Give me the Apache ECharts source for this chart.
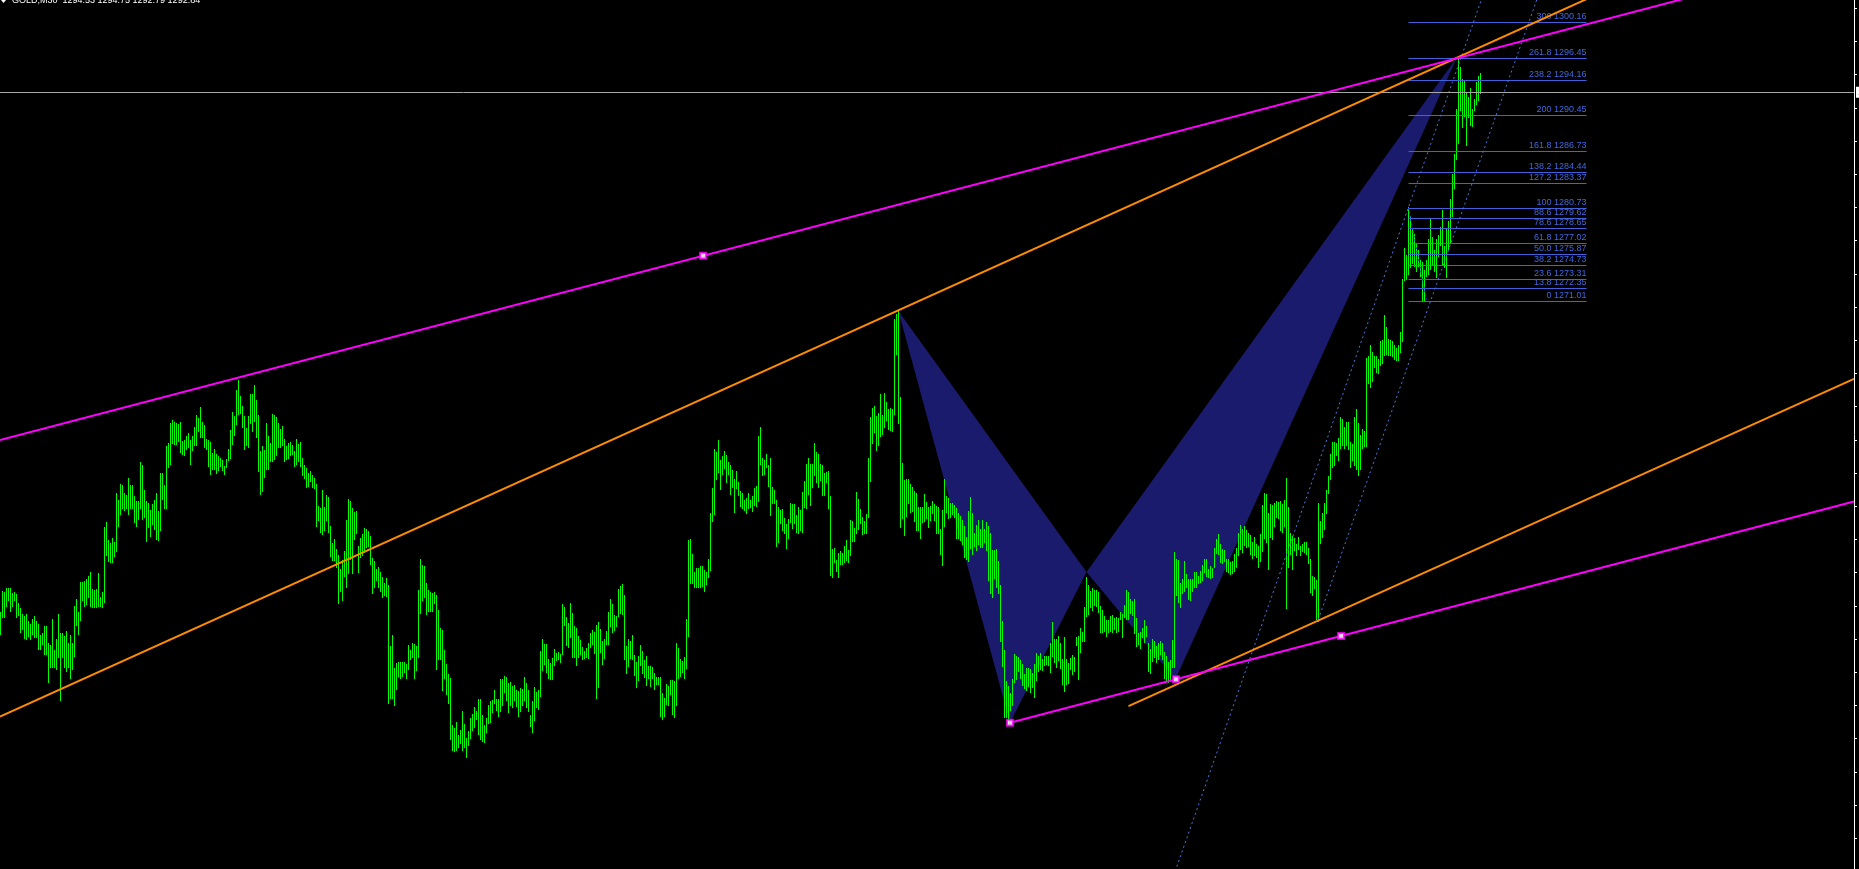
<!DOCTYPE html>
<html><head><meta charset="utf-8">
<script src="https://cdn.jsdelivr.net/npm/echarts@6.0.0/dist/echarts.min.js"></script>
<style>html,body{margin:0;padding:0;background:#000;overflow:hidden}#c{width:1859px;height:869px}</style>
</head><body><div id="c"></div>
<script>
// ---------- data ----------
const symbolName = 'GOLD,M30';
const lastQuote = [1294.53, 1294.75, 1292.79, 1292.84]; // O H L C of last bar
const highs = [
1238.4,1240.6,1240.4,1240.9,1240.9,1240.9,1240.3,1240.4,1240.2,1239.3,
1238.8,1238.2,1237.9,1238.1,1237.4,1237.1,1237.6,1237.9,1237.4,1237.1,
1236.0,1236.2,1236.9,1236.9,1235.1,1234.9,1237.6,1234.4,1235.5,1238.1,
1236.2,1236.2,1235.8,1236.4,1235.1,1236.0,1235.1,1239.0,1239.7,1238.4,
1241.5,1241.5,1241.6,1241.8,1242.1,1242.5,1240.8,1240.7,1240.8,1242.4,
1239.9,1240.4,1247.3,1247.8,1245.9,1245.6,1246.1,1245.7,1250.8,1250.1,
1251.8,1251.7,1250.8,1250.6,1252.4,1251.7,1251.7,1250.5,1250.0,1250.0,
1254.1,1253.7,1251.1,1250.0,1249.8,1249.0,1249.7,1250.1,1250.8,1248.9,
1252.9,1252.9,1251.7,1255.7,1256.1,1258.1,1258.5,1258.3,1258.1,1258.0,
1258.2,1256.3,1256.4,1256.8,1257.1,1256.4,1256.8,1257.7,1259.0,1258.7,
1259.8,1258.2,1257.9,1256.5,1256.4,1256.2,1255.0,1255.4,1254.9,1254.7,
1254.5,1254.3,1253.6,1254.4,1255.4,1257.4,1259.3,1258.9,1261.6,1262.6,
1261.0,1259.9,1258.9,1257.6,1258.9,1261.2,1261.2,1262.1,1260.6,1259.0,
1255.2,1255.7,1255.3,1258.1,1256.8,1256.1,1259.1,1259.0,1258.8,1258.1,
1257.5,1257.8,1256.5,1255.7,1256.1,1256.2,1255.8,1255.2,1256.5,1256.0,
1256.2,1254.5,1253.8,1253.4,1252.9,1253.1,1252.7,1252.4,1251.8,1249.5,
1249.2,1251.1,1249.4,1250.6,1250.4,1247.4,1245.6,1246.0,1245.0,1244.3,
1242.9,1243.8,1244.7,1248.0,1250.2,1250.0,1249.2,1248.8,1248.9,1245.3,
1246.1,1246.5,1247.2,1247.1,1246.8,1246.3,1244.0,1243.7,1242.9,1243.1,
1242.5,1242.0,1241.4,1241.9,1241.2,1234.8,1235.9,1232.5,1233.0,1233.1,
1233.1,1233.1,1233.1,1232.9,1234.9,1234.4,1235.1,1235.0,1234.8,1240.7,
1243.9,1243.3,1243.2,1241.4,1240.7,1240.4,1240.3,1240.4,1240.1,1238.6,
1236.7,1236.5,1234.4,1232.9,1231.9,1231.4,1226.5,1226.2,1226.8,1225.5,
1226.0,1228.0,1226.6,1225.2,1225.9,1227.3,1227.7,1228.4,1228.0,1229.3,
1229.3,1227.6,1226.5,1227.3,1228.6,1229.0,1229.1,1230.2,1229.2,1229.2,
1231.3,1231.3,1231.7,1231.6,1230.9,1231.0,1230.6,1230.7,1230.2,1230.1,
1230.4,1230.3,1231.5,1230.9,1230.2,1227.6,1229.0,1230.5,1230.0,1230.2,
1234.3,1235.5,1235.0,1235.0,1233.4,1233.0,1233.5,1234.5,1234.1,1234.2,
1234.0,1239.2,1238.9,1237.8,1237.2,1239.3,1238.3,1236.9,1236.7,1235.8,
1235.4,1234.7,1234.3,1234.6,1235.1,1236.2,1236.5,1236.3,1237.0,1237.3,
1236.6,1235.3,1235.5,1236.4,1238.4,1239.7,1239.2,1238.0,1237.9,1240.8,
1241.1,1241.3,1240.1,1234.8,1235.5,1235.3,1235.9,1233.9,1233.1,1233.7,
1234.9,1234.3,1233.3,1233.7,1232.7,1232.7,1232.6,1232.0,1231.5,1231.6,
1231.5,1229.9,1229.4,1230.8,1230.6,1231.2,1231.2,1231.1,1235.1,1234.6,
1233.4,1233.2,1233.6,1237.6,1245.9,1246.0,1244.4,1242.5,1243.0,1243.0,
1243.2,1243.2,1242.8,1242.5,1243.9,1248.7,1251.3,1255.4,1255.1,1256.4,
1254.3,1254.7,1255.2,1254.8,1254.1,1253.8,1253.2,1252.3,1253.1,1252.0,
1251.0,1250.8,1250.1,1250.3,1250.8,1250.1,1250.5,1251.3,1251.5,1256.8,
1257.7,1254.5,1254.3,1254.9,1253.7,1254.5,1251.4,1251.1,1250.1,1249.3,
1249.0,1249.1,1248.2,1247.6,1248.1,1249.8,1249.7,1249.7,1248.5,1249.4,
1249.0,1250.9,1252.1,1253.9,1254.5,1253.9,1253.9,1256.1,1255.1,1254.9,
1253.9,1253.7,1252.9,1253.0,1253.1,1250.5,1245.0,1245.1,1243.8,1244.5,
1244.7,1244.5,1245.3,1245.9,1244.9,1248.0,1247.9,1247.2,1250.9,1250.2,
1249.1,1248.3,1247.9,1248.6,1254.5,1258.8,1259.7,1259.9,1258.9,1259.2,
1261.2,1259.0,1261.3,1260.3,1259.6,1259.7,1259.6,1269.0,1269.6,1269.9,
1260.9,1254.0,1252.2,1252.3,1252.3,1251.8,1251.4,1251.0,1250.8,1249.3,
1249.3,1249.3,1250.7,1249.9,1249.4,1249.5,1250.0,1249.7,1249.5,1249.4,
1247.0,1249.0,1252.3,1250.5,1250.3,1249.8,1249.8,1249.6,1249.2,1248.7,
1248.4,1248.0,1247.4,1246.2,1248.9,1250.4,1248.7,1246.6,1247.5,1248.0,
1247.0,1248.0,1247.0,1247.8,1247.4,1246.6,1244.9,1244.9,1245.0,1243.7,
1241.2,1237.4,1234.4,1231.1,1230.6,1229.9,1231.3,1234.0,1233.8,1233.6,
1233.3,1232.9,1231.9,1232.5,1232.5,1232.4,1232.0,1232.9,1234.1,1233.8,
1234.1,1233.4,1233.8,1233.7,1233.7,1235.1,1237.3,1235.5,1235.5,1235.8,
1235.1,1233.4,1235.7,1233.4,1233.0,1233.5,1233.9,1233.6,1235.7,1235.8,
1236.7,1236.3,1238.9,1242.0,1241.2,1240.6,1240.9,1240.7,1240.7,1240.5,
1239.0,1238.6,1237.9,1237.5,1237.5,1237.9,1238.0,1237.7,1237.8,1237.7,
1238.4,1238.1,1239.1,1240.7,1240.4,1239.7,1239.5,1239.7,1237.7,1236.2,
1236.3,1236.7,1237.5,1236.9,1235.1,1234.5,1235.5,1235.3,1234.8,1235.1,
1235.3,1235.1,1234.2,1233.8,1233.1,1233.3,1235.4,1244.6,1243.9,1243.8,
1241.4,1241.8,1243.7,1242.3,1241.8,1241.8,1241.8,1242.5,1242.5,1242.1,
1242.6,1243.3,1243.9,1243.9,1242.9,1243.2,1243.0,1245.1,1246.0,1246.5,
1245.5,1245.0,1244.9,1243.9,1243.9,1243.6,1243.7,1244.4,1245.1,1246.6,
1247.5,1247.0,1247.4,1246.9,1246.6,1246.4,1245.7,1246.2,1245.5,1245.3,
1246.5,1249.6,1250.8,1250.7,1248.7,1249.7,1249.6,1249.8,1250.0,1249.9,
1250.0,1249.7,1250.1,1252.4,1249.4,1246.6,1246.3,1246.1,1245.5,1246.2,
1245.3,1245.5,1245.7,1245.7,1245.1,1243.9,1242.1,1242.0,1241.7,1249.8,
1247.9,1248.7,1249.8,1251.1,1252.6,1254.9,1256.2,1256.2,1256.1,1256.6,
1258.8,1258.6,1257.7,1258.2,1258.3,1256.2,1256.0,1258.8,1259.6,1258.1,
1256.9,1257.5,1257.3,1265.0,1265.2,1266.3,1265.6,1265.2,1265.2,1264.8,
1266.7,1266.8,1269.5,1268.2,1266.9,1266.8,1266.7,1266.3,1266.0,1266.3,
1267.7,1273.2,1276.5,1275.7,1280.73,1279.8,1278.6,1277.9,1276.9,1276.3,
1275.2,1275.0,1274.2,1275.2,1277.4,1279.5,1277.6,1276.3,1277.4,1277.8,
1278.7,1280.4,1276.7,1278.6,1279.3,1281.6,1284.2,1286.3,1291.0,1296.6,
1295.4,1294.2,1294.1,1292.8,1292.3,1293.2,1291.0,1292.1,1293.9,1294.5,
1294.75
];
const lows = [
1236.2,1237.9,1237.9,1239.1,1239.7,1238.6,1239.1,1239.7,1237.9,1238.2,
1236.4,1236.7,1235.7,1235.6,1236.0,1235.6,1236.2,1235.8,1235.8,1234.6,
1234.6,1235.1,1234.1,1234.1,1231.1,1232.7,1232.7,1232.7,1232.5,1233.7,
1229.2,1233.7,1232.7,1232.3,1232.7,1231.6,1232.5,1233.9,1237.1,1236.2,
1237.6,1239.7,1239.1,1239.3,1240.0,1239.1,1239.0,1239.0,1239.0,1239.1,
1239.1,1239.0,1239.5,1244.4,1243.8,1243.7,1243.7,1244.3,1244.9,1247.5,
1248.7,1249.4,1249.1,1249.4,1248.7,1249.4,1249.4,1247.9,1247.5,1248.2,
1249.4,1248.2,1248.4,1245.9,1247.4,1246.4,1247.7,1247.2,1246.1,1246.0,
1247.0,1250.3,1249.4,1249.4,1253.6,1254.0,1256.2,1256.1,1256.1,1256.4,
1255.2,1255.0,1254.9,1255.5,1255.7,1254.0,1255.4,1255.9,1255.9,1257.4,
1256.8,1256.8,1255.7,1255.5,1253.8,1252.9,1253.4,1253.4,1253.0,1253.3,
1253.7,1253.3,1252.9,1253.6,1254.4,1254.6,1256.1,1257.0,1258.1,1259.2,
1259.3,1257.8,1255.5,1256.0,1255.7,1258.2,1257.4,1258.5,1256.8,1253.2,
1250.8,1251.1,1252.6,1253.4,1253.4,1254.3,1254.3,1254.5,1254.9,1255.7,
1255.7,1255.9,1254.3,1254.5,1254.6,1254.9,1255.0,1253.8,1254.0,1254.3,
1253.8,1252.8,1252.5,1251.5,1251.7,1252.2,1251.5,1251.4,1247.5,1248.1,
1246.8,1246.6,1247.1,1248.1,1246.8,1244.3,1243.9,1243.9,1243.2,1239.4,
1240.7,1239.7,1242.2,1241.1,1242.5,1244.0,1242.5,1246.1,1246.7,1242.6,
1244.2,1244.4,1244.7,1245.3,1245.4,1243.5,1240.5,1241.1,1241.8,1241.1,
1240.7,1240.0,1240.2,1240.1,1228.9,1229.5,1229.5,1228.7,1230.4,1231.8,
1231.6,1231.8,1232.2,1231.5,1232.5,1233.5,1233.8,1231.5,1232.4,1233.8,
1238.4,1239.7,1240.0,1238.3,1238.6,1238.6,1238.6,1239.4,1232.5,1233.5,
1233.5,1230.3,1231.6,1229.9,1228.9,1225.2,1224.0,1223.9,1224.0,1224.3,
1224.7,1224.0,1224.3,1223.3,1224.5,1225.3,1226.1,1226.4,1227.3,1225.7,
1225.2,1225.0,1224.8,1225.9,1226.8,1226.9,1228.0,1228.9,1228.2,1227.6,
1228.1,1228.7,1230.1,1229.2,1228.0,1228.7,1228.5,1229.3,1228.6,1227.6,
1228.1,1228.7,1229.2,1228.5,1228.1,1226.5,1225.9,1227.2,1228.5,1228.3,
1229.7,1232.4,1233.0,1232.2,1231.6,1231.4,1231.4,1232.9,1233.4,1233.5,
1233.2,1234.1,1237.1,1235.0,1234.8,1235.8,1233.7,1233.8,1232.9,1233.8,
1234.1,1233.5,1233.6,1233.7,1233.6,1234.8,1235.1,1234.2,1229.5,1230.6,
1234.3,1233.0,1233.6,1235.1,1235.1,1237.0,1236.4,1236.6,1237.0,1238.0,
1238.4,1238.3,1233.5,1232.1,1232.8,1233.6,1233.5,1231.9,1230.6,1231.3,
1232.9,1232.1,1231.7,1230.8,1231.5,1230.7,1231.5,1230.4,1230.9,1230.9,
1227.6,1227.3,1227.6,1228.8,1228.7,1229.9,1227.8,1227.5,1228.7,1231.6,
1231.8,1232.2,1231.6,1232.6,1236.0,1241.5,1241.5,1241.1,1241.1,1241.1,
1241.1,1241.2,1240.7,1241.4,1242.1,1242.9,1248.0,1248.7,1252.4,1253.1,
1251.3,1252.9,1253.5,1252.1,1252.9,1250.8,1251.5,1248.9,1251.4,1250.7,
1249.6,1249.4,1249.1,1248.8,1249.4,1249.5,1249.0,1249.7,1249.6,1250.1,
1254.0,1252.8,1252.9,1253.6,1251.7,1248.6,1249.9,1249.9,1245.4,1245.8,
1247.8,1247.1,1246.7,1245.2,1246.2,1247.9,1247.3,1247.8,1246.8,1246.7,
1247.0,1246.8,1249.5,1249.4,1250.8,1249.7,1251.5,1252.8,1252.1,1251.5,
1252.3,1250.7,1250.7,1252.1,1249.4,1242.3,1242.1,1243.7,1242.8,1242.1,
1243.5,1243.5,1243.7,1243.9,1243.7,1244.4,1245.9,1245.9,1246.7,1247.2,
1247.8,1246.6,1246.7,1246.7,1248.4,1252.2,1256.2,1257.3,1255.4,1255.9,
1256.9,1257.1,1257.8,1258.6,1257.6,1257.5,1257.4,1259.2,1265.5,1258.2,
1247.4,1248.3,1246.5,1248.5,1249.9,1248.9,1249.0,1248.0,1247.0,1247.0,
1246.2,1247.9,1248.0,1248.3,1247.4,1248.1,1248.8,1248.1,1246.7,1246.7,
1244.5,1243.4,1247.5,1248.9,1248.3,1248.4,1248.7,1248.4,1246.2,1246.2,
1246.0,1245.6,1244.2,1244.0,1243.8,1245.2,1244.5,1245.4,1245.0,1245.6,
1245.3,1245.3,1245.8,1245.0,1241.8,1240.4,1240.0,1242.0,1241.1,1240.5,
1235.4,1232.8,1227.5,1227.5,1226.8,1228.2,1228.7,1231.1,1231.4,1232.3,
1231.5,1230.8,1230.5,1230.3,1230.7,1230.1,1230.6,1229.6,1231.3,1232.3,
1232.5,1232.4,1232.9,1233.0,1232.9,1232.2,1233.9,1233.2,1232.7,1233.4,
1232.6,1230.9,1230.2,1230.9,1231.0,1232.5,1232.0,1232.3,1235.0,1231.4,
1234.3,1235.4,1235.4,1238.0,1238.3,1239.0,1238.7,1239.2,1239.1,1238.5,
1236.4,1236.4,1236.5,1235.9,1236.4,1236.5,1236.4,1236.7,1236.4,1236.5,
1237.7,1235.8,1237.9,1237.7,1237.7,1238.4,1238.1,1236.3,1234.9,1235.1,
1234.7,1235.8,1235.3,1235.9,1232.3,1232.1,1233.3,1233.8,1233.2,1233.5,
1234.1,1233.5,1231.6,1231.3,1231.1,1231.3,1232.7,1232.7,1240.2,1239.5,
1239.0,1240.4,1240.7,1241.1,1239.8,1239.7,1240.7,1241.1,1241.1,1241.5,
1241.6,1241.8,1242.7,1242.2,1242.1,1242.0,1242.1,1243.2,1244.6,1244.5,
1243.7,1243.6,1243.8,1242.8,1242.7,1242.4,1242.5,1242.8,1243.2,1244.4,
1245.1,1244.7,1245.5,1245.3,1245.4,1244.5,1244.1,1244.4,1244.2,1243.2,
1243.8,1244.9,1246.2,1245.8,1243.0,1246.3,1246.1,1247.5,1248.4,1248.3,
1247.0,1246.8,1247.5,1238.9,1243.2,1244.5,1243.0,1245.0,1244.4,1245.1,
1244.4,1244.8,1244.7,1244.5,1243.6,1240.6,1240.2,1241.0,1237.7,1237.5,
1245.7,1246.3,1247.2,1248.8,1250.9,1252.4,1253.6,1253.9,1254.9,1254.4,
1255.6,1256.0,1255.6,1256.0,1255.5,1253.6,1254.4,1253.9,1253.4,1252.8,
1253.4,1255.6,1255.8,1255.8,1262.4,1262.0,1262.6,1264.1,1263.6,1263.5,
1264.3,1264.5,1265.4,1265.5,1265.4,1265.4,1265.3,1265.0,1264.8,1264.8,
1265.7,1266.8,1273.2,1273.3,1273.9,1274.6,1275.0,1274.7,1274.2,1274.7,
1273.6,1271.01,1271.01,1273.6,1273.9,1274.4,1274.8,1274.2,1273.5,1275.7,
1276.9,1274.8,1274.6,1273.5,1276.5,1277.1,1279.9,1282.9,1285.9,1287.6,
1291.0,1289.2,1290.4,1287.4,1290.3,1289.5,1289.3,1291.0,1291.7,1292.1,
1292.79
];
// price-scale tick marks (labels fall outside the window)
const priceTicks = [1301.62,1298.14,1294.67,1291.19,1287.72,1284.24,1280.77,1277.29,1273.82,1270.34,1266.86,1263.39,1259.91,1256.44,1252.96,1249.49,1246.01,1242.54,1239.06,1235.58,1232.11,1228.63,1225.16,1221.68,1218.21,1214.73];
// Fibonacci expansion
const fibLevels = ['0','13.8','23.6','38.2','50.0','61.8','78.6','88.6','100','127.2','138.2','161.8','200','238.2','261.8','300'];
const fibPrices = [1271.01,1272.35,1273.31,1274.73,1275.87,1277.02,1278.65,1279.62,1280.73,1283.37,1284.44,1286.73,1290.45,1294.16,1296.45,1300.16];
const fibSpan = [704, 793];                      // bar indexes where level lines start / end
const fibBase = [[704, 1280.73], [713, 1271.01]]; // swing used by the tool
// harmonic pattern X-A-B and B-C-D
const patternXAB = [[449, 1269.9], [504.75, 1226.82], [543, 1242.6]];
const patternBCD = [[543, 1242.6], [587.5, 1231.4], [728.25, 1296.5]];
// trend lines: two anchor points (bar index, price)
const magentaUpper = [[351.25, 1275.71], [728.75, 1296.42]];
const magentaLower = [[504.75, 1226.82], [670.25, 1235.90]];
const orangeUpper  = [[449, 1270.0], [728.25, 1296.45]];
const orangeLower  = [[564, 1228.56], [658.25, 1237.46]];
const channelA     = [[587.9, 1211.60], [740.25, 1302.40]];
const channelB     = [[658.9, 1237.62], [768.1, 1302.49]];
const magentaMarks = [[351.25, 1275.71], [504.75, 1226.82], [587.75, 1231.38], [670.25, 1235.90]];

// ---------- chart ----------
const X_MIN = -0.25, X_MAX = 926.75, Y_MIN = 1211.50, Y_MAX = 1302.49;
function extend(pts, ray) {
  const [p1, p2] = pts;
  const s = (p2[1] - p1[1]) / (p2[0] - p1[0]);
  const f = x => p1[1] + s * (x - p1[0]);
  const xa = ray ? p1[0] : X_MIN;
  return [[xa, f(xa)], [X_MAX, f(X_MAX)]];
}
function lineSeries(data, color, width, dash, z) {
  return {
    type: 'line', data: data, showSymbol: false, symbol: 'none', silent: true,
    clip: true, animation: false, z: z,
    lineStyle: { color: color, width: width, type: dash || 'solid', cap: 'butt' }
  };
}
function trend(pts, ray, color, width, dash, z) {
  return lineSeries(extend(pts, ray), color, width, dash, z);
}
const barData = highs.map((h, i) => [i, h, lows[i]]);
const fibData = fibPrices.map((p, k) => [fibSpan[0], p, fibSpan[1], k]);

const chart = echarts.init(document.getElementById('c'), null, { renderer: 'canvas' });
chart.setOption({
  backgroundColor: '#000000',
  animation: false,
  grid: { left: 0, right: 5, top: 0, bottom: 0, containLabel: false },
  xAxis: { type: 'value', min: X_MIN, max: X_MAX, show: false },
  yAxis: {
    type: 'value', position: 'right', min: Y_MIN, max: Y_MAX, scale: true,
    axisLine: { show: true, onZero: false, lineStyle: { color: '#ffffff', width: 1 } },
    axisTick: { show: true, inside: false, length: 3, customValues: priceTicks, lineStyle: { color: '#ffffff' } },
    axisLabel: { show: false },
    splitLine: { show: false }
  },
  graphic: [
    { type: 'polygon', shape: { points: [[1, 0], [6, 0], [3.5, 3]] }, style: { fill: '#ffffff' }, z: 100 },
    { type: 'text', x: 12, y: 5, style: {
        text: symbolName + '  ' + lastQuote.map(v => v.toFixed(2)).join(' '),
        fill: '#ffffff', font: '9px "Liberation Sans", Arial, sans-serif', verticalAlign: 'bottom' }, z: 100 }
  ],
  series: [
    { // harmonic pattern triangles
      type: 'custom', z: 1, silent: true, animation: false,
      data: [[0], [1]],
      renderItem: function (params, api) {
        const tri = params.dataIndex === 0 ? patternXAB : patternBCD;
        return { type: 'polygon', shape: { points: tri.map(p => api.coord(p)) }, style: { fill: '#1b1b6d' } };
      }
    },
    { // price bars (high-low)
      type: 'custom', z: 2, silent: true, animation: false,
      data: barData, encode: { x: 0, y: [1, 2] },
      renderItem: function (params, api) {
        const i = api.value(0);
        const a = api.coord([i, api.value(1)]);
        const b = api.coord([i, api.value(2)]);
        const x = Math.floor(a[0]) + 0.5;
        return { type: 'line', shape: { x1: x, y1: Math.floor(a[1]), x2: x, y2: Math.ceil(b[1]) + 1 },
                 style: { stroke: '#00ff00', lineWidth: 1 } };
      }
    },
    { // fibonacci expansion levels + labels
      type: 'custom', z: 3, silent: true, animation: false,
      data: fibData, encode: { x: [0, 2], y: 1 },
      renderItem: function (params, api) {
        const a = api.coord([api.value(0), api.value(1)]);
        const b = api.coord([api.value(2), api.value(1)]);
        const y = Math.round(a[1]) + 0.5;
        const k = api.value(3);
        return { type: 'group', children: [
          { type: 'line', shape: { x1: a[0], y1: y, x2: b[0], y2: y }, style: { stroke: '#3f62dc', lineWidth: 1 } },
          { type: 'text', style: { text: fibLevels[k] + ' ' + fibPrices[k].toFixed(2), x: b[0], y: y - 1,
              align: 'right', verticalAlign: 'bottom', fill: '#4068e0', font: '9px "Liberation Sans", Arial, sans-serif' } }
        ] };
      }
    },
    lineSeries(fibBase, '#1a2cff', 1, [2, 2], 3),
    { // bid line
      type: 'line', data: [], silent: true, z: 3,
      markLine: { silent: true, symbol: 'none', animation: false,
        data: [{ yAxis: lastQuote[3] }],
        lineStyle: { color: '#a8a8a8', width: 1, type: 'solid' },
        label: { show: true, position: 'end', distance: 2, formatter: lastQuote[3].toFixed(2),
                 backgroundColor: '#ffffff', color: '#000', fontSize: 9, padding: [1, 2] } }
    },
    trend(channelA, false, '#4a78dc', 1, [2, 3], 4),
    trend(channelB, true, '#4a78dc', 1, [2, 3], 4),
    trend(orangeUpper, false, '#ff8c00', 2, null, 5),
    trend(orangeLower, true, '#ff8c00', 2, null, 5),
    trend(magentaUpper, false, '#ff00ff', 2, null, 6),
    trend(magentaLower, true, '#ff00ff', 2, null, 6),
    { type: 'scatter', data: magentaMarks, symbol: 'rect', symbolSize: 6, silent: true, z: 7, animation: false,
      itemStyle: { color: '#ffffff', borderColor: '#ff00ff', borderWidth: 2 } }
  ]
});
</script>
</body></html>
